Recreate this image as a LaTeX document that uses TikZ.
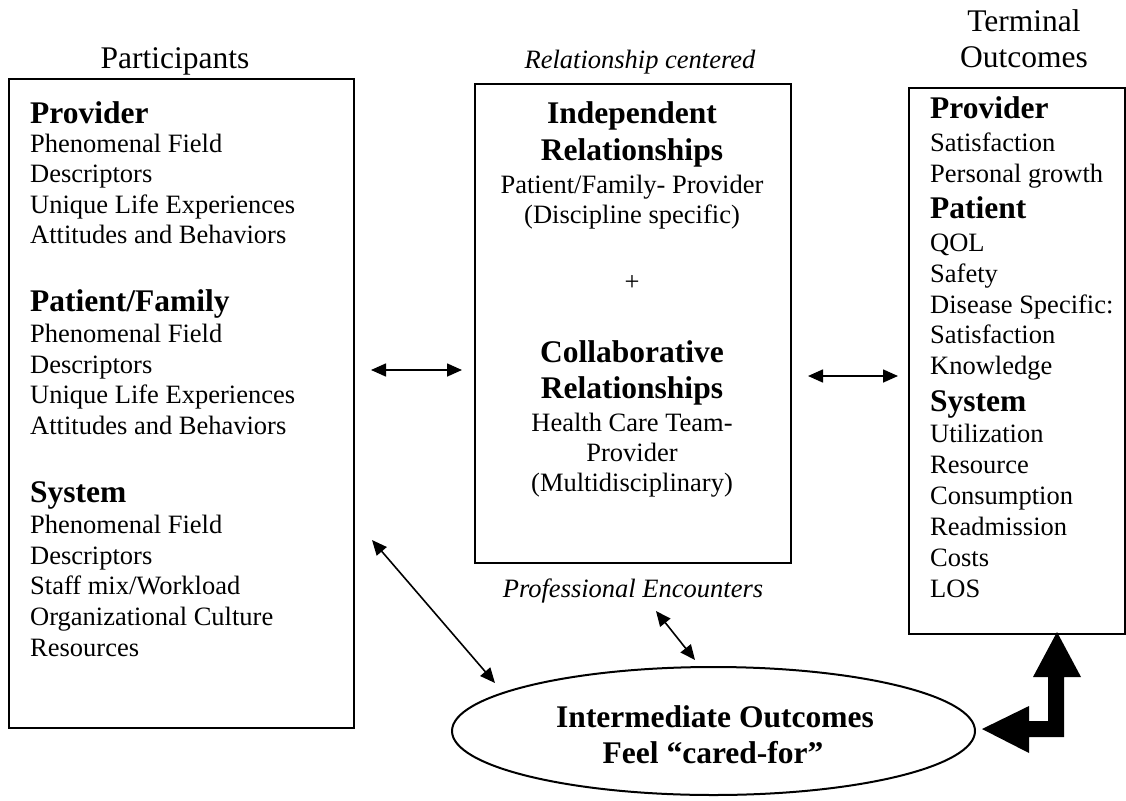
\documentclass[tikz,border=0pt]{standalone}
\usepackage{fontspec}
\setmainfont{Liberation Serif}
\usetikzlibrary{arrows.meta,shapes.geometric}
\begin{document}
\begin{tikzpicture}[x=1pt,y=-1pt,
  box/.style={draw,line width=2.2pt,inner sep=0pt,anchor=north west},
  nrm/.style={font=\fontsize{26.5}{30.5}\selectfont,inner sep=0pt},
  big/.style={font=\fontsize{31.5}{36}\selectfont,inner sep=0pt},
  hdr/.style={font=\fontsize{31.5}{36}\selectfont\bfseries,inner sep=0pt},
  ital/.style={font=\fontsize{26.5}{30.5}\selectfont\itshape,inner sep=0pt},
  lft/.style={anchor=base west},
  ctr/.style={anchor=base},
  dbl/.style={line width=1.6pt,{Triangle[length=15pt,width=13pt]}-{Triangle[length=15pt,width=13pt]}}]
\useasboundingbox (0,0) rectangle (1126,800);

% boxes
\node[box,minimum width=345pt,minimum height=649pt] (pbox) at (8,78) {};
\node[box,minimum width=316pt,minimum height=479pt] (mbox) at (474,83) {};
\node[box,minimum width=216pt,minimum height=546pt] (tbox) at (908,87) {};
\node[draw,ellipse,line width=2pt,inner sep=0pt,minimum width=523pt,minimum height=128pt] (ell) at (713.5,731) {};

% titles
\node[big,ctr] (tPart) at (175,68) {Participants};
\node[ital,ctr] (tRel) at (640,68) {Relationship centered};
\node[big,ctr] (tTerm1) at (1024,32) {Terminal};
\node[big,ctr] (tTerm2) at (1024,67) {Outcomes};
\node[ital,ctr] (tProf) at (633,597) {Professional Encounters};

% left column
\node[hdr,lft] (p1) at (30,123) {Provider};
\node[nrm,lft] (p2) at (30,152) {Phenomenal Field};
\node[nrm,lft] (p3) at (30,182) {Descriptors};
\node[nrm,lft] (p4) at (30,213) {Unique Life Experiences};
\node[nrm,lft] (p5) at (30,243) {Attitudes and Behaviors};
\node[hdr,lft] (p6) at (30,311) {Patient/Family};
\node[nrm,lft] (p7) at (30,342) {Phenomenal Field};
\node[nrm,lft] (p8) at (30,373) {Descriptors};
\node[nrm,lft] (p9) at (30,403) {Unique Life Experiences};
\node[nrm,lft] (p10) at (30,434) {Attitudes and Behaviors};
\node[hdr,lft] (p11) at (30,502) {System};
\node[nrm,lft] (p12) at (30,533) {Phenomenal Field};
\node[nrm,lft] (p13) at (30,564) {Descriptors};
\node[nrm,lft] (p14) at (30,594) {Staff mix/Workload};
\node[nrm,lft] (p15) at (30,625) {Organizational Culture};
\node[nrm,lft] (p16) at (30,656) {Resources};

% middle column
\node[hdr,ctr] (m1) at (632,123) {Independent};
\node[hdr,ctr] (m2) at (632,160) {Relationships};
\node[nrm,ctr] (m3) at (632,193) {Patient/Family- Provider};
\node[nrm,ctr] (m4) at (632,223) {(Discipline specific)};
\node[nrm,ctr] (m5) at (632,290) {+};
\node[hdr,ctr] (m6) at (632,362) {Collaborative};
\node[hdr,ctr] (m7) at (632,398) {Relationships};
\node[nrm,ctr] (m8) at (632,431) {Health Care Team-};
\node[nrm,ctr] (m9) at (632,461) {Provider};
\node[nrm,ctr] (m10) at (632,491) {(Multidisciplinary)};

% right column
\node[hdr,lft] (r1) at (930,118) {Provider};
\node[nrm,lft] (r2) at (930,151) {Satisfaction};
\node[nrm,lft] (r3) at (930,182) {Personal growth};
\node[hdr,lft] (r4) at (930,218) {Patient};
\node[nrm,lft] (r5) at (930,251) {QOL};
\node[nrm,lft] (r6) at (930,282) {Safety};
\node[nrm,lft] (r7) at (930,313) {Disease Specific:};
\node[nrm,lft] (r8) at (930,343) {Satisfaction};
\node[nrm,lft] (r9) at (930,374) {Knowledge};
\node[hdr,lft] (r10) at (930,411) {System};
\node[nrm,lft] (r11) at (930,442) {Utilization};
\node[nrm,lft] (r12) at (930,473) {Resource};
\node[nrm,lft] (r13) at (930,504) {Consumption};
\node[nrm,lft] (r14) at (930,535) {Readmission};
\node[nrm,lft] (r15) at (930,566) {Costs};
\node[nrm,lft] (r16) at (930,597) {LOS};

% ellipse text
\node[hdr,ctr] (e1) at (715,727) {Intermediate Outcomes};
\node[hdr,ctr] (e2) at (713,763) {Feel “cared-for”};

% connectors
\coordinate (la) at (371,370); \coordinate (lb) at (462,370);
\coordinate (ra) at (808,376); \coordinate (rb) at (898,376);
\coordinate (da) at (372,540); \coordinate (db) at (495,683);
\coordinate (ea) at (656,611); \coordinate (eb) at (695,660);
\draw[dbl] (la) -- (lb);
\draw[dbl] (ra) -- (rb);
\draw[dbl] (da) -- (db);
\draw[dbl] (ea) -- (eb);

% thick bent arrow from ellipse to terminal box
\fill (1057,632) -- (1081,677) -- (1064,677) -- (1064,737) -- (1029,737)
  -- (1029,753) -- (982,729) -- (1029,706) -- (1029,721) -- (1048,721)
  -- (1048,677) -- (1033,677) -- cycle;
\end{tikzpicture}
\end{document}
